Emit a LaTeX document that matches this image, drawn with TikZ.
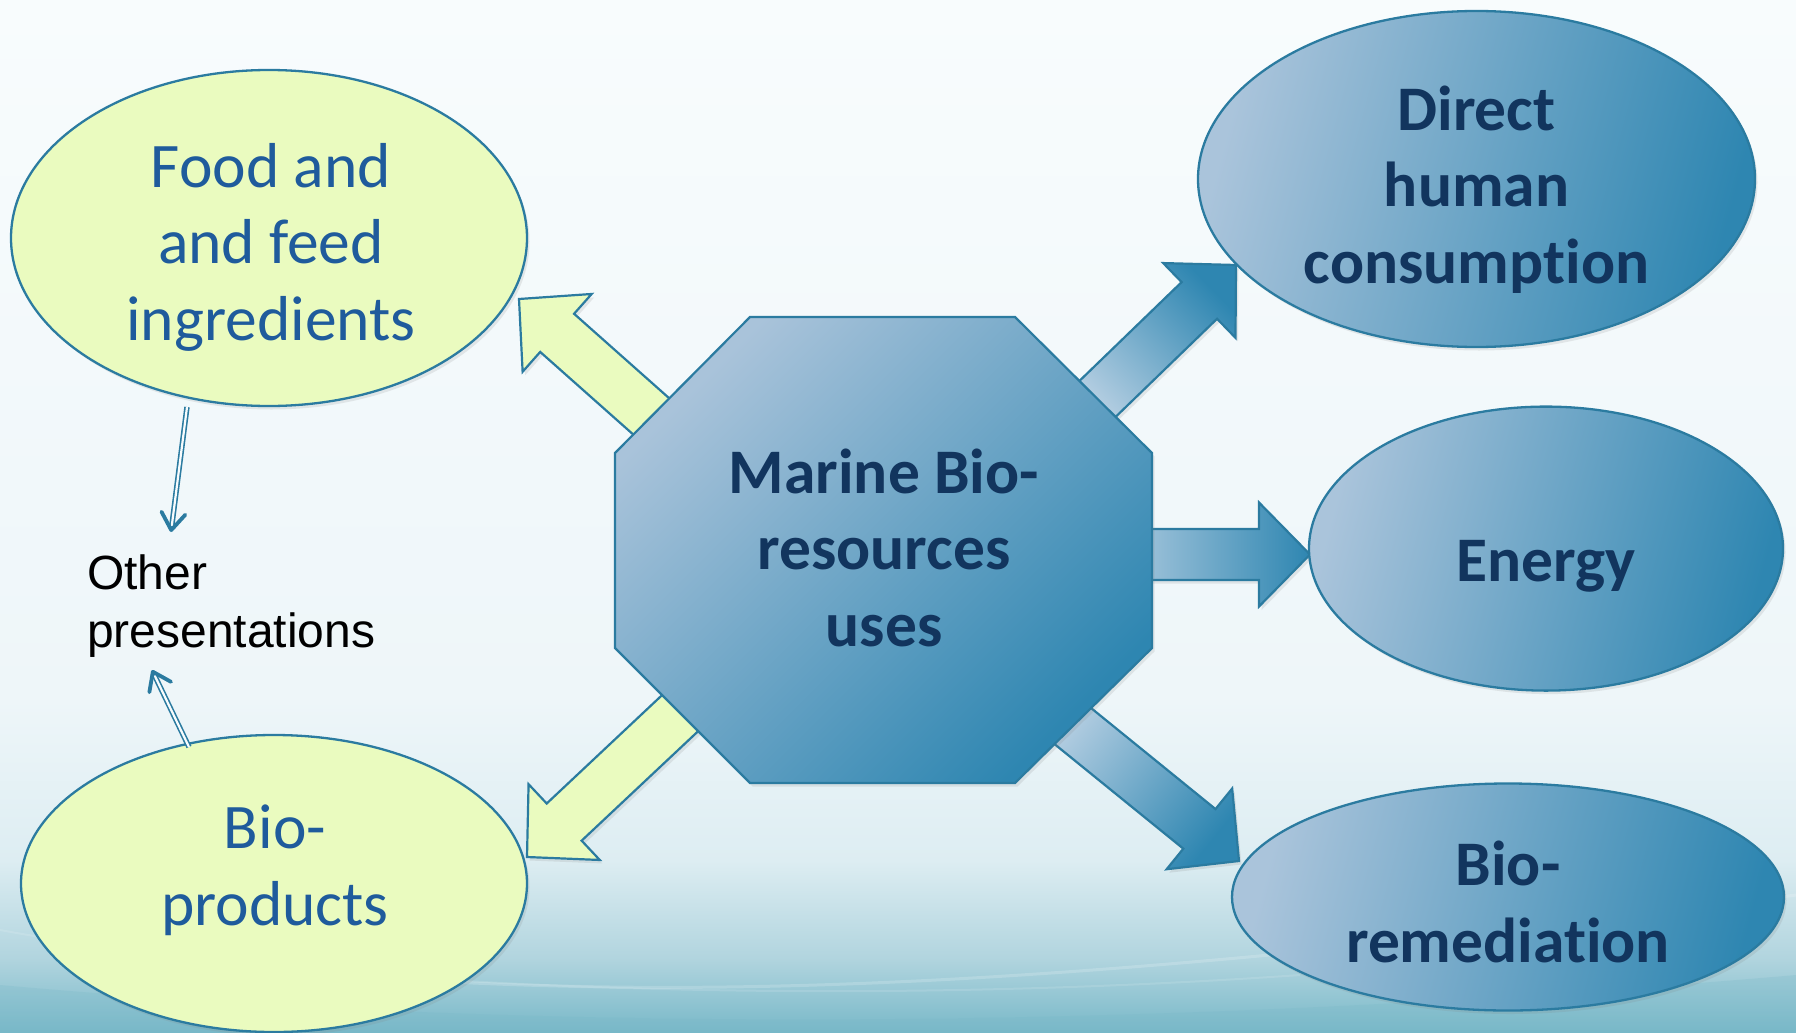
\documentclass[tikz,border=0pt]{standalone}
\usepackage{fontspec}
\setmainfont{Carlito}[Ligatures=NoCommon]
\newfontfamily\arialfont{Liberation Sans}
\usetikzlibrary{shapes.geometric, arrows.meta, calc, shadows}

\definecolor{outl}{HTML}{2B7BA0}
\definecolor{yel}{HTML}{EAFBBF}
\definecolor{bluelight}{HTML}{AAC4DB}
\definecolor{arrlight}{HTML}{B8D0E3}
\definecolor{bluedark}{HTML}{2E86B1}
\definecolor{octlight}{HTML}{A9C3DA}
\definecolor{navy}{HTML}{12355E}
\definecolor{foodblue}{HTML}{1F5B9C}
\definecolor{bgtop}{HTML}{F8FCFD}
\definecolor{bgmid}{HTML}{EEF6F9}
\definecolor{bglow}{HTML}{DDEDF2}
\definecolor{bglow2}{HTML}{B0D4DE}
\definecolor{bgbot}{HTML}{78B8C8}

\newcommand\blockarr[3]{%
  \coordinate (ba-base) at ($(#3)!51pt!(#2)$);
  \path[#1] ($(#2)!25.5pt!90:(#3)$) -- ($(ba-base)!25.5pt!-90:(#2)$)
    -- ($(ba-base)!52pt!-90:(#2)$) -- (#3) -- ($(ba-base)!52pt!90:(#2)$)
    -- ($(ba-base)!25.5pt!90:(#2)$) -- ($(#2)!25.5pt!-90:(#3)$) -- cycle;
}

\tikzset{
  shad/.style={drop shadow={shadow xshift=2.5pt, shadow yshift=-3.5pt, opacity=0.16}},
  ell/.style={ellipse, draw=outl, line width=2.3pt, inner sep=0pt},
  yell/.style={ell, fill=yel},
  bell/.style={ell, top color=bluelight, bottom color=bluedark, shading angle=75},
  yarrow/.style={fill=yel, draw=outl, line width=2.2pt, line join=miter, shad},
  barrow/.style={draw=outl, line width=2.2pt, line join=miter, shad,
    top color=arrlight, bottom color=bluedark, shading angle=#1},
  octa/.style={draw=outl, line width=2.2pt, line join=miter,
    top color=octlight, bottom color=bluedark, shading angle=45},
  ytext/.style={align=center, text=foodblue, anchor=base,
    font=\fontsize{63.5}{76.5}\selectfont},
  btext/.style={align=center, text=navy, anchor=base,
    font=\bfseries\fontsize{63.5}{76.5}\selectfont},
  dbl/.style={draw=outl, line width=1.6pt, double=bgtop, double distance=2.2pt},
  barbtip/.style={draw=outl, line width=3.8pt, line cap=round,
    -{Straight Barb[length=17pt, width=24pt, round]}},
}

\begin{document}
\begin{tikzpicture}[x=1pt, y=-1pt]
\useasboundingbox (0,0) rectangle (1796,1033);

% background
\path[top color=bgtop, bottom color=bgmid] (0,0) rectangle (1796,701);
\path[top color=bgmid, bottom color=bglow] (0,700) rectangle (1796,861);
\path[top color=bglow, bottom color=bglow2] (0,860) rectangle (1796,961);
\path[top color=bglow2, bottom color=bgbot] (0,960) rectangle (1796,1033);
\fill[bgbot, opacity=0.25] (0,985) .. controls (500,1030) and (1100,1035) .. (1796,975)
  -- (1796,1033) -- (0,1033) -- cycle;
\draw[white, opacity=0.18, line width=3pt] (300,972) .. controls (650,1000) and (1000,998) .. (1796,895);
\draw[white, opacity=0.12, line width=2pt] (0,930) .. controls (300,985) and (800,1010) .. (1300,975);

% arrow coordinates
\coordinate (tA) at (706,465);   \coordinate (pA) at (519,299);
\coordinate (tB) at (709,686);   \coordinate (pB) at (527,857);
\coordinate (tC) at (1085,411);  \coordinate (pC) at (1236,265);
\coordinate (tD) at (1100,554.5);\coordinate (pD) at (1310,554.5);
\coordinate (tE) at (1053,710);  \coordinate (pE) at (1239,861);

% block arrows
\blockarr{yarrow}{tA}{pA}
\blockarr{yarrow}{tB}{pB}
\blockarr{barrow=134}{tC}{pC}
\blockarr{barrow=90}{tD}{pD}
\blockarr{barrow=51}{tE}{pE}

% octagon
\path[octa, shad] (750,317) -- (1015,317) -- (1152,453) -- (1152,648)
  -- (1015,783) -- (750,783) -- (615,648) -- (615,453) -- cycle;

% ellipses
\node[yell, shad, minimum width=516pt, minimum height=336pt] (food) at (269,238) {};
\node[yell, shad, minimum width=506pt, minimum height=297pt] (bioprod) at (274,883.5) {};
\node[bell, shad, minimum width=557pt, minimum height=336pt] (direct) at (1476.5,179) {};
\node[bell, shad, minimum width=474pt, minimum height=284pt] (energy) at (1546,548.6) {};
\node[bell, shad, minimum width=552pt, minimum height=227pt] (biorem) at (1508,897) {};

% texts (anchor base = baseline of the last line)
\node[ytext] (foodtxt) at (271,340) {Food and\\and feed\\ingredients};
\node[ytext] (bioprodtxt) at (275,925) {Bio-\\products};
\node[btext] (directtxt) at (1476.5,283) {Direct\\human\\consumption};
\node[btext] (energytxt) at (1546,581) {Energy};
\node[btext] (biormtxt) at (1508,962) {Bio-\\remediation};
\node[btext] (marine) at (884,646) {Marine Bio-\\resources\\uses};

\node[anchor=base west, align=left, inner sep=0pt,
  font=\arialfont\fontsize{48}{58}\selectfont] (other) at (87,647) {Other\\presentations};

% thin double arrows
\coordinate (f2o-s) at (187,407); \coordinate (f2o-e) at (171,532);
\coordinate (b2o-s) at (189,747); \coordinate (b2o-e) at (152,670);
\draw[dbl] (f2o-s) -- ($(f2o-e)!6pt!(f2o-s)$);
\draw[barbtip] ($(f2o-e)!4pt!(f2o-s)$) -- (f2o-e);
\draw[dbl] (b2o-s) -- ($(b2o-e)!6pt!(b2o-s)$);
\draw[barbtip] ($(b2o-e)!4pt!(b2o-s)$) -- (b2o-e);
\end{tikzpicture}
\end{document}
